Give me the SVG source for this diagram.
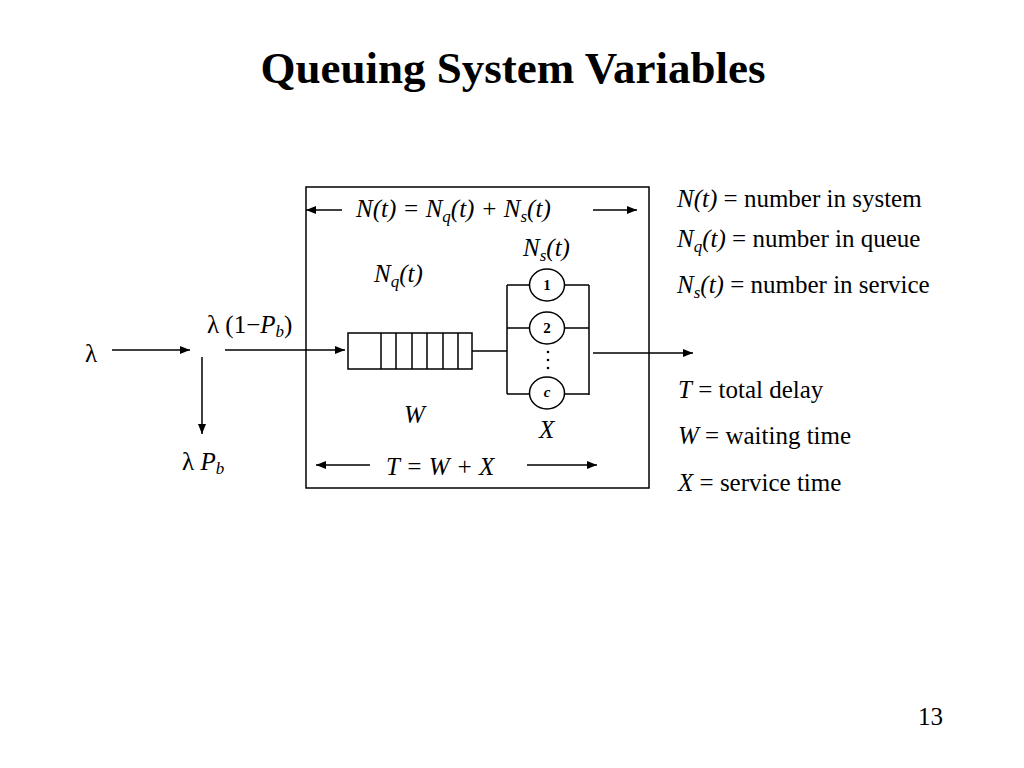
<svg xmlns="http://www.w3.org/2000/svg" width="1024" height="768" viewBox="0 0 1024 768">
<defs>
<marker id="ah" viewBox="0 0 10 8" refX="10" refY="4" markerWidth="10" markerHeight="8" markerUnits="userSpaceOnUse" orient="auto-start-reverse">
<path d="M0,0 L10,4 L0,8 Z" fill="#000"/>
</marker>
<style>
text{font-family:"Liberation Serif","Times New Roman",serif;fill:#000;font-size:25px}
.i{font-style:italic}
.title{font-size:45px;font-weight:bold}
.ln{stroke:#000;stroke-width:1.5;fill:none}
.arr{stroke:#000;stroke-width:1.5;fill:none;marker-end:url(#ah)}
.arr2{stroke:#000;stroke-width:1.5;fill:none;marker-start:url(#ah)}
.srv{stroke:#000;stroke-width:1.5;fill:#fff}
.sn{font-size:15px;font-weight:bold;text-anchor:middle}
</style>
</defs>
<rect width="1024" height="768" fill="#fff"/>

<g id="title"><text class="title" x="513" y="83" text-anchor="middle">Queuing System Variables</text></g>

<g id="system-box"><rect class="ln" x="306" y="187" width="343" height="301"/></g>

<g id="queue">
<rect class="ln" x="348" y="333" width="124" height="36"/>
<path class="ln" d="M381,333V369M396,333V369M412,333V369M427,333V369M443,333V369M458,333V369"/>
</g>

<g id="servers">
<path class="ln" d="M507,285V394M589,285V395M507,285H530M564,285H589M507,328H530M564,328H589M507,394H530M564,394H589"/>
<g id="server-1"><ellipse class="srv" cx="547" cy="285" rx="17.5" ry="16"/><text class="sn" x="547" y="290">1</text></g>
<g id="server-2"><ellipse class="srv" cx="547" cy="328" rx="17.5" ry="16"/><text class="sn" x="547" y="333">2</text></g>
<g id="server-c"><ellipse class="srv" cx="547" cy="393" rx="17.5" ry="16"/><text class="sn" x="547" y="397" font-style="italic">c</text></g>
<g id="dots" fill="#000"><circle cx="548" cy="352" r="1.3"/><circle cx="548" cy="360" r="1.3"/><circle cx="548" cy="368" r="1.3"/></g>
</g>

<g id="connectors">
<line class="arr" x1="112" y1="350" x2="190" y2="350"/>
<line class="arr" x1="225" y1="350" x2="345" y2="350"/>
<line class="arr" x1="202" y1="357" x2="202" y2="434"/>
<line class="ln" x1="472" y1="351" x2="507" y2="351"/>
<line class="arr" x1="593" y1="353" x2="693" y2="353"/>
<line class="arr2" x1="306" y1="210" x2="342" y2="210"/>
<line class="arr" x1="593" y1="210" x2="637" y2="210"/>
<line class="arr2" x1="316" y1="465" x2="370" y2="465"/>
<line class="arr" x1="527" y1="465" x2="597" y2="465"/>
</g>

<g id="labels">
<text x="85" y="362" font-size="26">λ</text>
<text x="207" y="333">λ (1−<tspan class="i">P</tspan><tspan class="i" font-size="17" dy="4">b</tspan><tspan dy="-4">)</tspan></text>
<text x="182" y="470">λ <tspan class="i">P</tspan><tspan class="i" font-size="17" dy="4">b</tspan></text>
<text class="i" x="356" y="217">N(t) = N<tspan font-size="17" dy="5">q</tspan><tspan dy="-5">(t) + N</tspan><tspan font-size="17" dy="5">s</tspan><tspan dy="-5">(t)</tspan></text>
<text class="i" x="523" y="256">N<tspan font-size="17" dy="5">s</tspan><tspan dy="-5">(t)</tspan></text>
<text class="i" x="374" y="282">N<tspan font-size="17" dy="5">q</tspan><tspan dy="-5">(t)</tspan></text>
<text class="i" x="404" y="423">W</text>
<text class="i" x="539" y="438">X</text>
<text class="i" x="386" y="475">T = W + X</text>
</g>

<g id="legend">
<text x="677" y="207"><tspan class="i">N(t)</tspan> = number in system</text>
<text x="677" y="247"><tspan class="i">N</tspan><tspan class="i" font-size="17" dy="5">q</tspan><tspan dy="-5"><tspan class="i">(t)</tspan> = number in queue</tspan></text>
<text x="677" y="293"><tspan class="i">N</tspan><tspan class="i" font-size="17" dy="5">s</tspan><tspan dy="-5"><tspan class="i">(t)</tspan> = number in service</tspan></text>
<text x="678" y="398"><tspan class="i">T</tspan> = total delay</text>
<text x="678" y="444"><tspan class="i">W</tspan> = waiting time</text>
<text x="678" y="491"><tspan class="i">X</tspan> = service time</text>
</g>

<g id="page-number"><text x="918" y="725" font-size="16">13</text></g>
</svg>
